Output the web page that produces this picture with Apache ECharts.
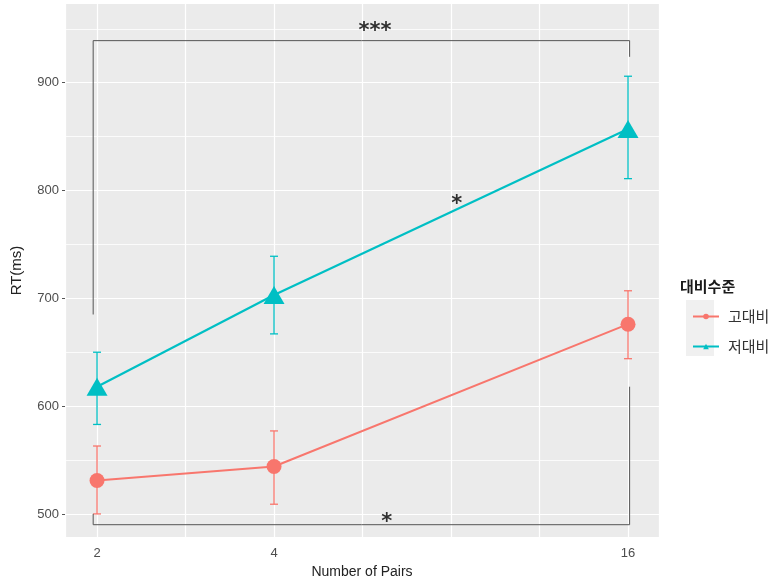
<!DOCTYPE html>
<html>
<head>
<meta charset="utf-8">
<script src="https://cdn.jsdelivr.net/npm/echarts@6/dist/echarts.min.js"></script>
<style>
  html, body { margin: 0; padding: 0; background: #fff; }
  #main { width: 778px; height: 586px; }
</style>
</head>
<body>
<div id="main"></div>
<script>
// x 값 (Number of Pairs) - log2 축으로 그림
const pairs = [2, 4, 16];
const tickLabels = ['2', '4', '16'];
const yTicks = [500, 600, 700, 800, 900];
const groups = ['고대비', '저대비'];

// 고대비
const highMean = [531, 544, 676];
const highLo = [500, 509, 644];
const highHi = [563, 577, 707];
// 저대비
const lowMean = [618, 703, 857];
const lowLo = [583, 667, 811];
const lowHi = [650, 739, 906];

// 유의성 표시 (브래킷 + 별표)
const bracketTop = [[1.97, 685], [1.97, 939], [16.1, 939], [16.1, 924]];
const bracketBottom = [[1.97, 500], [1.97, 490], [16.1, 490], [16.1, 618]];
const sigX = [5.94, 8.18, 6.22];
const sigY = [947, 787, 492];
const sigText = ['***', '*', '*'];

const RED = '#F8766D';
const TEAL = '#00BFC4';
const lg = v => Math.log2(v);

const myChart = echarts.init(document.getElementById('main'));

function errorBar(color) {
  return function (params, api) {
    const x = api.value(0);
    const lo = api.coord([x, api.value(1)]);
    const hi = api.coord([x, api.value(2)]);
    const w = 4;
    const style = { stroke: color, lineWidth: 1.3 };
    return {
      type: 'group',
      children: [
        { type: 'line', shape: { x1: hi[0], y1: hi[1], x2: lo[0], y2: lo[1] }, style },
        { type: 'line', shape: { x1: hi[0] - w, y1: hi[1], x2: hi[0] + w, y2: hi[1] }, style },
        { type: 'line', shape: { x1: lo[0] - w, y1: lo[1], x2: lo[0] + w, y2: lo[1] }, style }
      ]
    };
  };
}

const option = {
  backgroundColor: '#fff',
  animation: false,
  textStyle: { fontFamily: 'Liberation Sans, Arial, sans-serif' },
  title: {
    text: '대비수준',
    left: 675,
    top: 274,
    textStyle: { fontFamily: 'Noto Sans CJK KR', fontSize: 15, fontWeight: 'bold', color: '#1a1a1a' }
  },
  legend: {
    orient: 'vertical',
    left: 687,
    top: 304,
    itemWidth: 26,
    itemHeight: 7,
    itemGap: 15,
    data: groups,
    textStyle: { fontFamily: 'Noto Sans CJK KR', fontSize: 15, color: '#333', padding: [0, 0, 0, 4] }
  },
  graphic: [{
    type: 'rect',
    left: 686, top: 300,
    shape: { width: 28, height: 56 },
    style: { fill: '#F0F0F0' },
    z: -1
  }],
  grid: {
    left: 65, right: 119, top: 4, bottom: 49,
    show: true,
    backgroundColor: '#EBEBEB',
    borderWidth: 0
  },
  xAxis: {
    type: 'value',
    min: 0.819,
    max: 4.175,
    splitNumber: 7,
    name: 'Number of Pairs',
    nameLocation: 'middle',
    nameGap: 28,
    nameTextStyle: { fontSize: 14, color: '#222' },
    axisLine: { show: false },
    axisTick: { show: false },
    axisLabel: {
      fontSize: 13, color: '#4D4D4D', margin: 10,
      customValues: pairs.map(lg),
      formatter: v => {
        const i = pairs.findIndex(p => Math.abs(lg(p) - v) < 1e-6);
        return i >= 0 ? tickLabels[i] : '';
      }
    },
    splitLine: { lineStyle: { color: '#fff', width: 1.2 } }
  },
  yAxis: {
    type: 'value',
    min: 478.6,
    max: 973,
    splitNumber: 5,
    name: 'RT(ms)',
    nameLocation: 'middle',
    nameGap: 41,
    nameTextStyle: { fontSize: 15, color: '#222' },
    axisLine: { show: false },
    axisTick: { show: true, length: 3, customValues: yTicks, lineStyle: { color: '#555' } },
    axisLabel: {
      fontSize: 13, color: '#4D4D4D', margin: 6,
      customValues: yTicks,
      formatter: v => String(v)
    },
    splitLine: { lineStyle: { color: '#fff', width: 1.2 } },
    minorTick: { show: false, splitNumber: 2 },
    minorSplitLine: { show: true, lineStyle: { color: '#fff', width: 0.8 } }
  },
  series: [
    {
      type: 'custom', name: '고대비-err', renderItem: errorBar(RED), z: 2,
      data: pairs.map((p, i) => [lg(p), highLo[i], highHi[i]])
    },
    {
      type: 'custom', name: '저대비-err', renderItem: errorBar(TEAL), z: 2,
      data: pairs.map((p, i) => [lg(p), lowLo[i], lowHi[i]])
    },
    {
      type: 'line', name: groups[0], z: 3,
      data: pairs.map((p, i) => [lg(p), highMean[i]]),
      symbol: 'circle', symbolSize: 15,
      itemStyle: { color: RED },
      lineStyle: { color: RED, width: 2 }
    },
    {
      type: 'line', name: groups[1], z: 3,
      data: pairs.map((p, i) => [lg(p), lowMean[i]]),
      symbol: 'triangle', symbolSize: [21, 18],
      itemStyle: { color: TEAL },
      lineStyle: { color: TEAL, width: 2.2 }
    },
    {
      type: 'line', z: 4, silent: true, symbol: 'none',
      data: bracketTop.map(d => [lg(d[0]), d[1]]),
      lineStyle: { color: '#555', width: 1 }
    },
    {
      type: 'line', z: 4, silent: true, symbol: 'none',
      data: bracketBottom.map(d => [lg(d[0]), d[1]]),
      lineStyle: { color: '#555', width: 1 }
    },
    {
      type: 'scatter', z: 5, silent: true, symbolSize: 1,
      itemStyle: { color: 'transparent' },
      data: sigX.map((x, i) => ({ value: [lg(x), sigY[i]], name: sigText[i] })),
      label: {
        show: true, position: 'inside', formatter: p => p.name,
        fontFamily: 'DejaVu Sans', fontSize: 21, fontWeight: 'bold', color: '#000'
      }
    }
  ]
};
myChart.setOption(option);
</script>
</body>
</html>
